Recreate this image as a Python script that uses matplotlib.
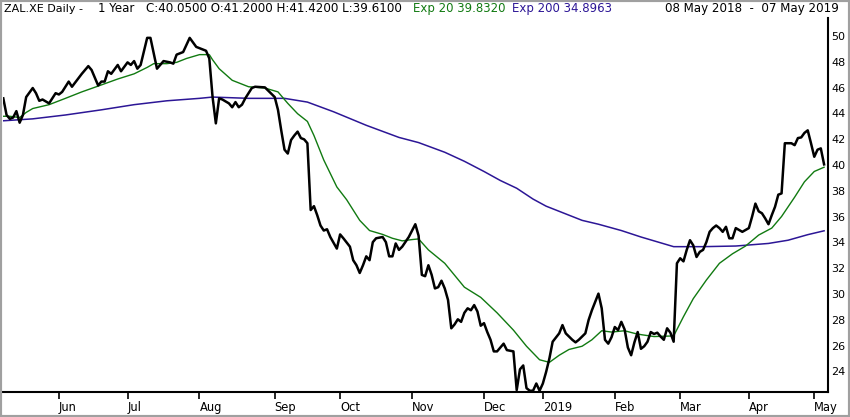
import numpy as np
import matplotlib
matplotlib.use("Agg")
import matplotlib.pyplot as plt
from matplotlib.patches import Rectangle

# x values are trading-day numbers counted from 08 May 2018
close_idx = [0, 1, 2, 3, 4, 5, 6, 7, 9, 10, 11, 12, 14, 16, 17, 18, 20, 21, 24, 26,
             27, 29, 30, 31, 32, 33, 35, 36, 38, 39, 40, 41, 42, 44, 45, 46, 47, 48, 49, 51,
             52, 53, 55, 57, 59, 60, 62, 63, 64, 65, 66, 67, 69, 70, 71, 72, 73, 74, 76, 77,
             80, 81, 83, 84, 85, 86, 87, 88, 89, 90, 91, 92, 93, 94, 95, 96, 97, 98, 99, 100,
             102, 103, 104, 106, 107, 108, 109, 110, 111, 112, 113, 114, 116, 117, 118, 119, 120, 121, 122, 124,
             126, 127, 128, 129, 130, 131, 132, 133, 134, 135, 136, 137, 138, 139, 140, 141, 142, 143, 144, 145,
             146, 147, 148, 149, 150, 151, 153, 154, 155, 156, 157, 158, 159, 160, 161, 162, 163, 164, 165, 166,
             167, 168, 170, 171, 172, 174, 175, 176, 178, 179, 180, 182, 183, 184, 185, 186, 187, 188, 189, 190,
             191, 192, 193, 194, 195, 196, 197, 198, 199, 200, 201, 202, 203, 204, 205, 206, 207, 208, 209, 210,
             211, 212, 213, 214, 215, 216, 217, 218, 219, 220, 221, 222, 223, 224, 225, 226, 228, 229, 230, 231,
             232, 233, 234, 235, 236, 237, 238, 239, 240, 241, 242, 243, 244, 245, 246, 247, 248, 249, 250, 251]
close = [45.17, 43.88, 43.58, 43.68, 44.18, 43.28, 43.88, 45.27, 45.97, 45.57, 44.98, 45.08, 44.78, 45.57, 45.47, 45.67, 46.47, 46.07, 47.07, 47.67,
         47.37, 46.17, 46.47, 46.47, 47.27, 47.07, 47.76, 47.27, 47.96, 47.76, 48.06, 47.47, 47.76, 49.86, 49.86, 48.66, 47.47, 47.76, 48.06, 47.96,
         47.86, 48.56, 48.76, 49.86, 49.16, 49.06, 48.86, 48.26, 45.27, 43.23, 45.17, 45.08, 44.78, 44.48, 44.88, 44.48, 44.68, 45.17, 45.97, 46.07,
         46.02, 45.77, 45.27, 44.28, 42.68, 41.19, 40.89, 41.94, 42.29, 42.59, 42.09, 41.99, 41.69, 36.51, 36.81, 36.11, 35.31, 34.92, 35.02, 34.42,
         33.52, 34.62, 34.32, 33.67, 32.62, 32.23, 31.63, 32.23, 32.92, 32.62, 34.02, 34.32, 34.42, 34.02, 32.92, 32.92, 33.92, 33.42, 33.67, 34.42,
         35.41, 34.52, 31.48, 31.38, 32.23, 31.48, 30.43, 30.53, 31.03, 30.43, 29.54, 27.34, 27.64, 28.04, 27.84, 28.54, 28.89, 28.74, 29.14, 28.64,
         27.54, 27.74, 27.05, 26.45, 25.55, 25.55, 26.15, 25.65, 25.60, 25.55, 22.55, 24.16, 24.46, 22.70, 22.50, 22.50, 23.06, 22.50, 23.06, 23.96,
         25.00, 26.30, 26.95, 27.59, 26.95, 26.45, 26.25, 26.45, 26.95, 27.99, 28.74, 30.03, 28.89, 26.45, 26.15, 26.65, 27.44, 27.20, 27.84, 27.25,
         25.85, 25.25, 26.25, 27.05, 25.75, 25.95, 26.30, 27.05, 26.90, 27.00, 26.70, 26.45, 27.34, 27.00, 26.30, 32.38, 32.77, 32.53, 33.42, 34.17,
         33.77, 32.87, 33.27, 33.42, 34.02, 34.82, 35.11, 35.31, 35.11, 34.82, 35.21, 34.32, 34.32, 35.11, 34.96, 34.82, 35.11, 36.01, 37.01, 36.41,
         36.26, 35.86, 35.41, 36.11, 36.76, 37.70, 37.80, 41.69, 41.69, 41.69, 41.54, 42.09, 42.14, 42.49, 42.69, 41.69, 40.64, 41.19, 41.29, 40.05]

ema20_idx = [0, 2, 5, 7, 9, 14, 19, 24, 29, 35, 40, 44, 46, 50, 53, 56, 60, 63, 64, 66,
             70, 75, 80, 84, 87, 90, 93, 95, 98, 102, 105, 109, 112, 116, 119, 122, 125, 127, 130, 135,
             141, 146, 151, 156, 160, 164, 167, 170, 173, 177, 180, 183, 186, 190, 193, 195, 199, 205, 208, 211,
             215, 219, 223, 227, 231, 235, 238, 242, 245, 248, 251]
ema20 = [43.78, 43.78, 43.68, 44.08, 44.38, 44.68, 45.17, 45.67, 46.12, 46.67, 47.07, 47.57, 47.86, 47.86, 47.96, 48.26, 48.56, 48.56, 48.16, 47.47,
         46.57, 46.07, 45.97, 45.67, 44.78, 43.98, 43.38, 42.29, 40.39, 38.30, 37.31, 35.71, 34.92, 34.62, 34.32, 34.12, 34.22, 34.27, 33.42, 32.38,
         30.53, 29.74, 28.54, 27.20, 25.95, 24.90, 24.70, 25.25, 25.70, 25.95, 26.45, 27.15, 27.05, 27.15, 26.95, 26.85, 26.70, 26.75, 28.24, 29.64,
         31.08, 32.38, 33.12, 33.72, 34.57, 35.11, 36.01, 37.51, 38.70, 39.50, 39.83]

ema200_idx = [0, 9, 19, 30, 40, 50, 60, 64, 75, 86, 93, 101, 111, 121, 127, 135, 141, 147, 152, 157,
              162, 166, 172, 177, 182, 189, 195, 201, 205, 214, 224, 234, 240, 246, 251]
ema200 = [43.43, 43.58, 43.88, 44.28, 44.68, 44.98, 45.17, 45.27, 45.17, 45.17, 44.88, 44.13, 43.08, 42.14, 41.74, 40.99, 40.29, 39.50, 38.80, 38.20,
          37.36, 36.81, 36.21, 35.71, 35.41, 34.92, 34.42, 33.97, 33.67, 33.67, 33.72, 33.92, 34.17, 34.60, 34.90]

month_ticks = [17, 38, 60, 83, 103, 125, 147, 165, 187, 207, 228, 248]
month_labels = ['Jun', 'Jul', 'Aug', 'Sep', 'Oct', 'Nov', 'Dec', '2019', 'Feb', 'Mar', 'Apr', 'May']
price_ticks = list(range(24, 51, 2))

GREEN = '#117a11'
PURPLE = '#2c1696'
HEAD_Y = 1 - 8.5 / 417

fig = plt.figure(figsize=(8.5, 4.17), dpi=100)
ax = fig.add_axes([3 / 850, 25.5 / 417, 825 / 850, 373.5 / 417])

ax.plot(ema200_idx, ema200, color=PURPLE, lw=1.1)
ax.plot(ema20_idx, ema20, color=GREEN, lw=1.0)
ax.plot(close_idx, close, color='black', lw=1.8)

ax.set_xlim(-0.09, 252.2)
ax.set_ylim(22.44, 51.4)

for s in ['left', 'top']:
    ax.spines[s].set_visible(False)
for s in ['bottom', 'right']:
    ax.spines[s].set_linewidth(1.5)

ax.set_xticks(month_ticks)
ax.set_xticklabels(month_labels, ha='left')
ax.tick_params(axis='x', direction='out', length=5, width=1.2, pad=1.5, labelsize=8.3)

ax.yaxis.tick_right()
ax.set_yticks(price_ticks)
ax.tick_params(axis='y', length=0, pad=2.5, labelsize=8)

# header line
fig.text(4 / 850, HEAD_Y, 'ZAL.XE Daily -', fontsize=8.0, va='center', ha='left')
fig.text(98 / 850, HEAD_Y, '1 Year', fontsize=8.5, va='center', ha='left')
fig.text(146 / 850, HEAD_Y, 'C:40.0500 O:41.2000 H:41.4200 L:39.6100',
         fontsize=8.6, va='center', ha='left')
fig.text(413 / 850, HEAD_Y, 'Exp 20 39.8320', fontsize=8.5, va='center',
         ha='left', color=GREEN)
fig.text(512 / 850, HEAD_Y, 'Exp 200 34.8963', fontsize=8.5, va='center',
         ha='left', color=PURPLE)
fig.text(839 / 850, HEAD_Y, '08 May 2018  -  07 May 2019', fontsize=8.6,
         va='center', ha='right')

# grey frame round the picture
fig.add_artist(Rectangle((0, 0), 1, 1, transform=fig.transFigure, fill=False,
                         edgecolor='#a0a0a0', linewidth=3))

fig.savefig('out.png', dpi=100)
